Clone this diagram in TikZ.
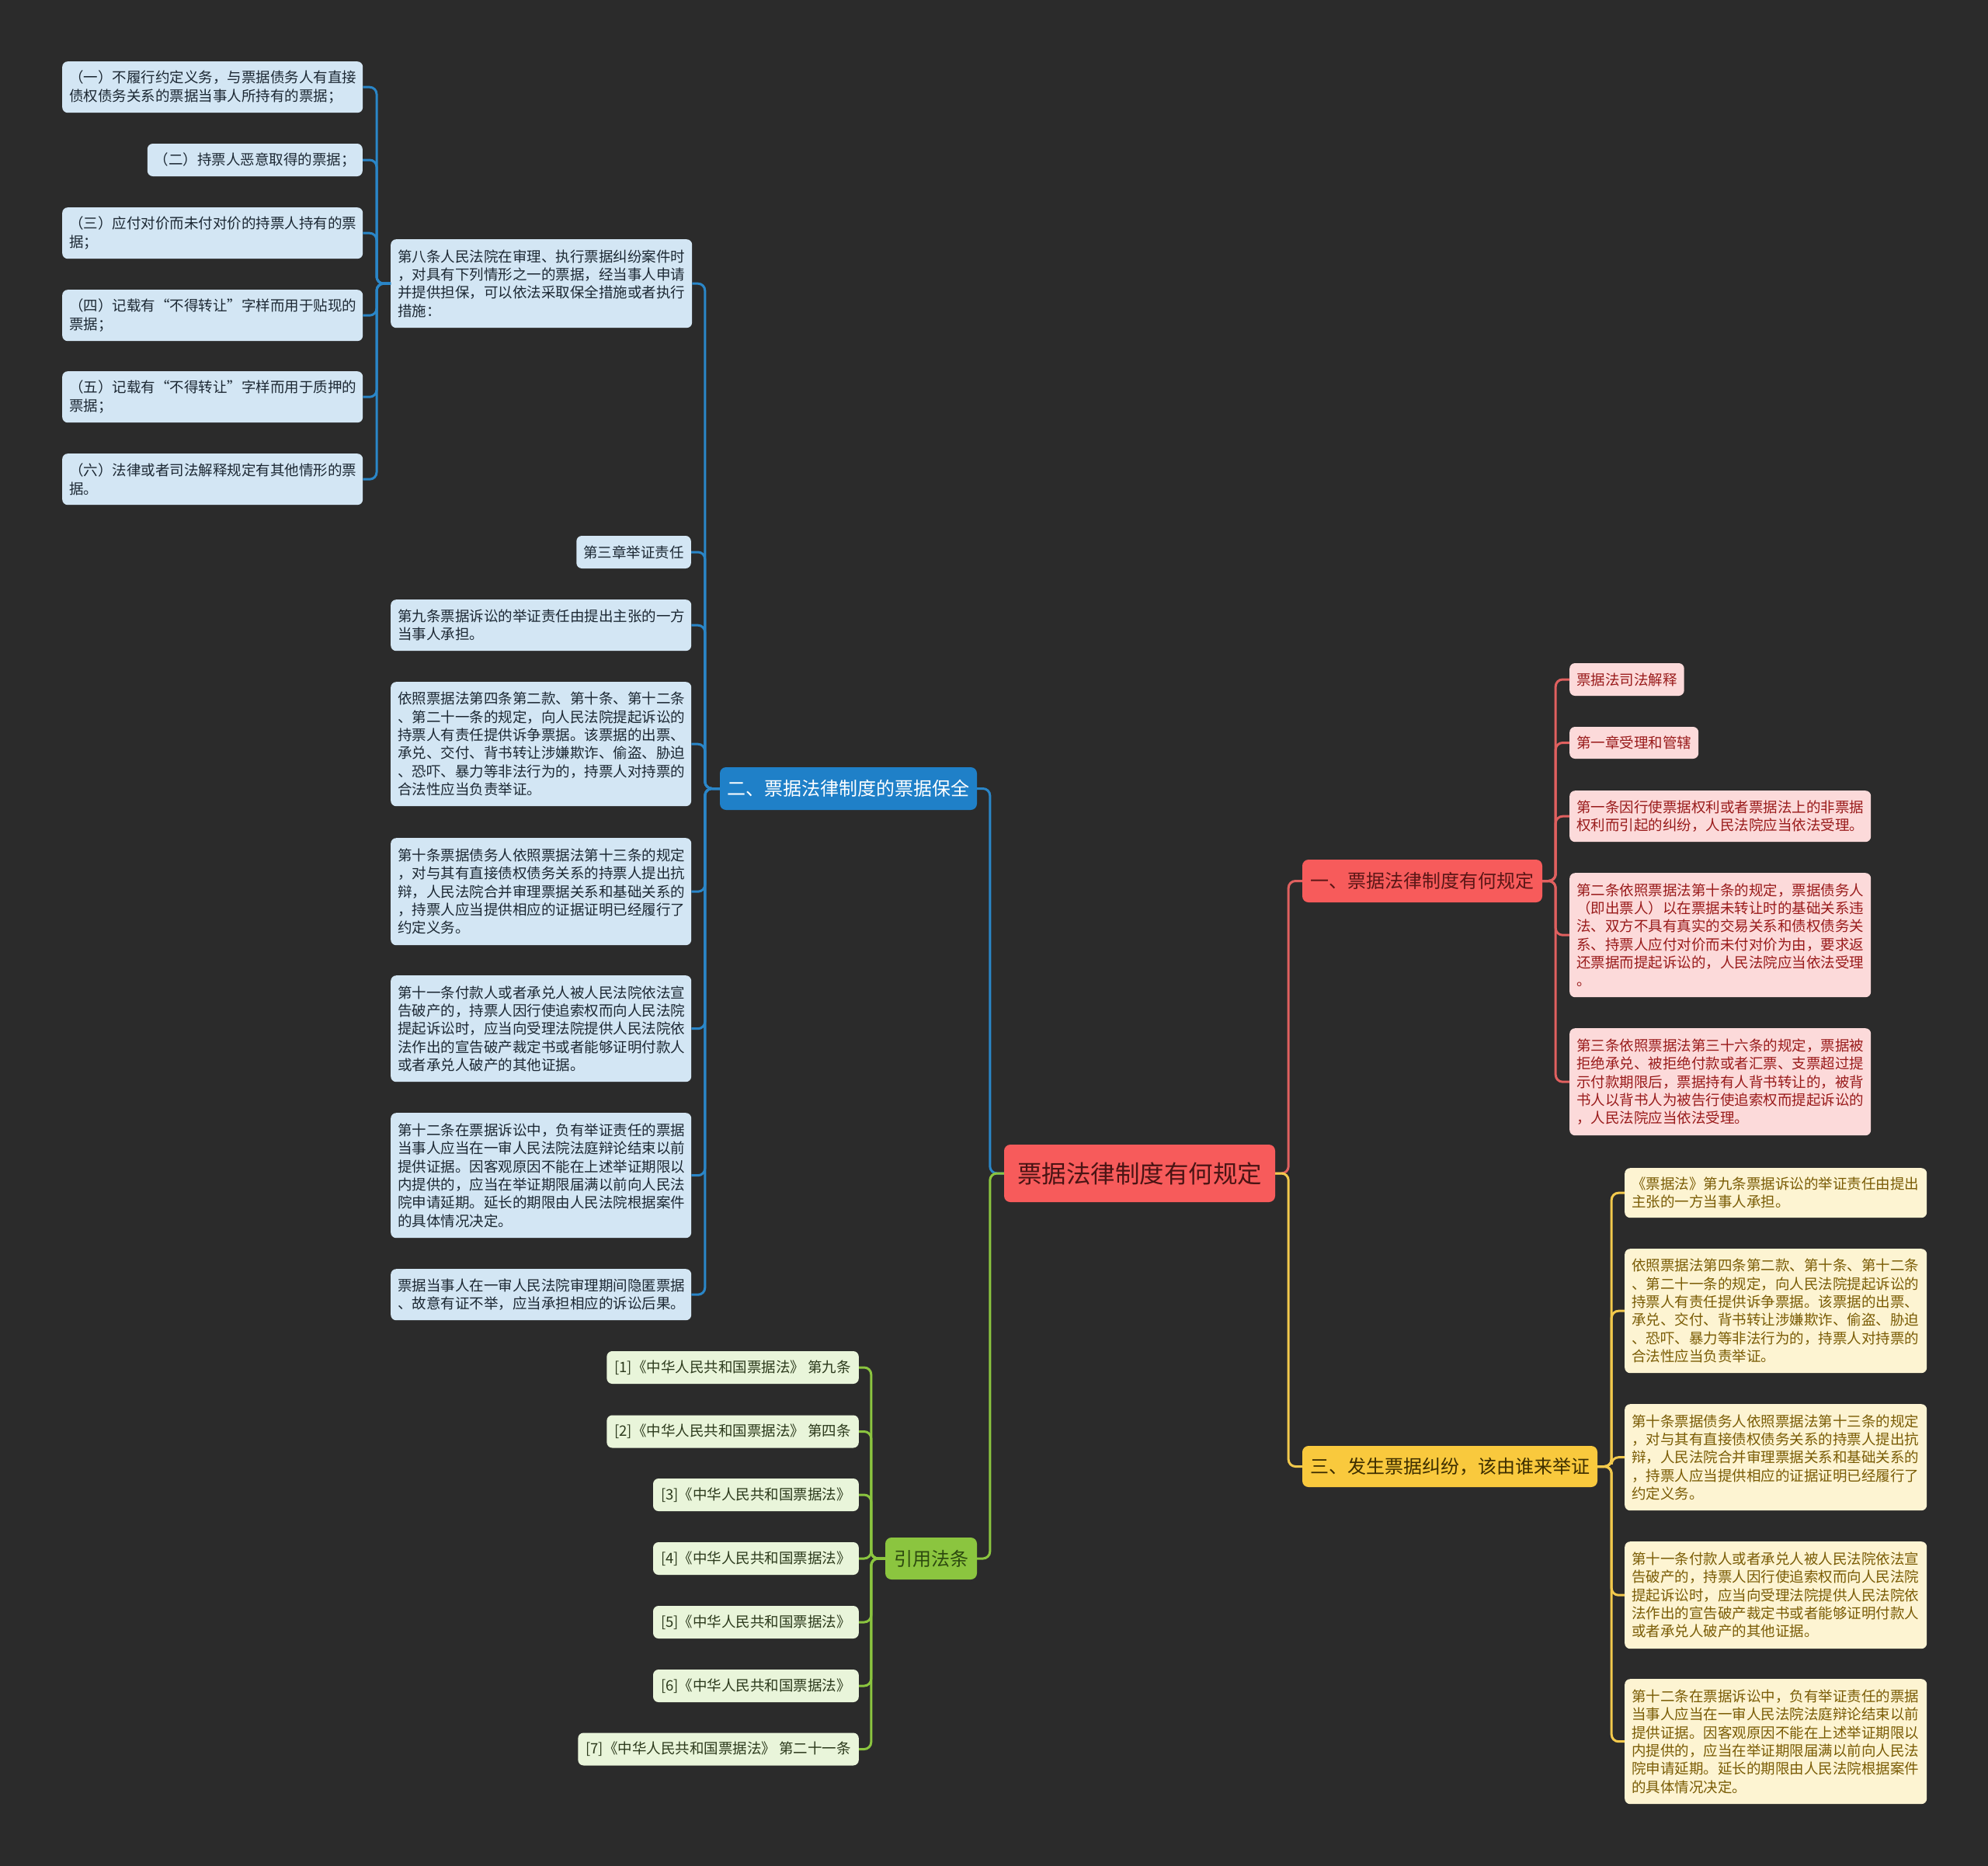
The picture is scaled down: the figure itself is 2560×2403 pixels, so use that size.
\documentclass[tikz,border=0pt]{standalone}
\usepackage{fontspec}
\setmainfont{Noto Sans CJK SC}
\definecolor{bg}{HTML}{2B2B2B}
\definecolor{rootfill}{HTML}{F75B5B}
\definecolor{roottext}{HTML}{4A1414}
\definecolor{bluemain}{HTML}{1F80C8}
\definecolor{blueline}{HTML}{2A86C8}
\definecolor{bluefill}{HTML}{D3E6F4}
\definecolor{bluetext}{HTML}{1C2833}
\definecolor{redline}{HTML}{E0605F}
\definecolor{redfill}{HTML}{FCDADA}
\definecolor{redtext}{HTML}{991B1B}
\definecolor{redmaintext}{HTML}{5A1616}
\definecolor{yelmain}{HTML}{F9C93D}
\definecolor{yelline}{HTML}{F2C94C}
\definecolor{yelfill}{HTML}{FDF4D2}
\definecolor{yeltext}{HTML}{7A5C05}
\definecolor{yelmaintext}{HTML}{3D2E00}
\definecolor{grnmain}{HTML}{8BC53F}
\definecolor{grnline}{HTML}{8BC53F}
\definecolor{grnfill}{HTML}{E9F5DA}
\definecolor{grntext}{HTML}{2C3A1C}
\definecolor{grnmaintext}{HTML}{2D4A0F}
\tikzset{
  base/.style={rounded corners=7pt, inner ysep=0pt, inner xsep=9pt, align=left,
    font=\fontsize{18.5}{23.3}\selectfont},
  bleaf/.style={base, fill=bluefill, text=bluetext},
  rleaf/.style={base, fill=redfill, text=redtext},
  yleaf/.style={base, fill=yelfill, text=yeltext},
  gleaf/.style={base, fill=grnfill, text=grntext, inner xsep=10pt, minimum height=42pt},
  mainbox/.style={rounded corners=8pt, inner sep=0pt, align=center,
    font=\fontsize{24}{28}\selectfont},
  conn/.style={line width=3pt, rounded corners=9pt},
}
\begin{document}
\begin{tikzpicture}[x=1pt,y=-1pt]
\fill[bg] (0,0) rectangle (2560,2403);
\useasboundingbox (0,0) rectangle (2560,2403);

% root
\node[mainbox, fill=rootfill, text=roottext, minimum width=349pt, minimum height=74pt,
  font=\fontsize{31.5}{36}\selectfont] (root) at (1467.5,1511) {票据法律制度有何规定};

% main branches
\node[mainbox, fill=bluemain, text=white, minimum width=331pt, minimum height=55pt] (b) at (1092.5,1015.5) {二、票据法律制度的票据保全};
\node[mainbox, fill=grnmain, text=grnmaintext, minimum width=118pt, minimum height=54pt] (g) at (1199,2007) {引用法条};
\node[mainbox, fill=rootfill, text=redmaintext, minimum width=309pt, minimum height=55pt] (r) at (1831.5,1134.5) {一、票据法律制度有何规定};
\node[mainbox, fill=yelmain, text=yelmaintext, minimum width=380pt, minimum height=53pt] (y) at (1867,1888.5) {三、发生票据纠纷，该由谁来举证};

% blue: 第八条 and its children
\node[bleaf, anchor=north west, text width=370pt, minimum height=114pt] (a0) at (503,308) {第八条人民法院在审理、执行票据纠纷案件时\\，对具有下列情形之一的票据，经当事人申请\\并提供担保，可以依法采取保全措施或者执行\\措施：};
\node[bleaf, anchor=north west, text width=369pt, minimum height=66pt] (a1) at (80,79) {（一）不履行约定义务，与票据债务人有直接\\债权债务关系的票据当事人所持有的票据；};
\node[bleaf, anchor=east, minimum height=42pt] (a2) at (467,206) {（二）持票人恶意取得的票据；};
\node[bleaf, anchor=north west, text width=369pt, minimum height=66pt] (a3) at (80,267) {（三）应付对价而未付对价的持票人持有的票\\据；};
\node[bleaf, anchor=north west, text width=369pt, minimum height=66pt] (a4) at (80,373) {（四）记载有“不得转让”字样而用于贴现的\\票据；};
\node[bleaf, anchor=north west, text width=369pt, minimum height=66pt] (a5) at (80,478) {（五）记载有“不得转让”字样而用于质押的\\票据；};
\node[bleaf, anchor=north west, text width=369pt, minimum height=66pt] (a6) at (80,584) {（六）法律或者司法解释规定有其他情形的票\\据。};

% blue: other children
\node[bleaf, anchor=east, minimum height=42pt] (b1) at (890,711) {第三章举证责任};
\node[bleaf, anchor=north west, text width=369pt, minimum height=66pt] (b2) at (503,772) {第九条票据诉讼的举证责任由提出主张的一方\\当事人承担。};
\node[bleaf, anchor=north west, text width=369pt, minimum height=160pt] (b3) at (503,878) {依照票据法第四条第二款、第十条、第十二条\\、第二十一条的规定，向人民法院提起诉讼的\\持票人有责任提供诉争票据。该票据的出票、\\承兑、交付、背书转让涉嫌欺诈、偷盗、胁迫\\、恐吓、暴力等非法行为的，持票人对持票的\\合法性应当负责举证。};
\node[bleaf, anchor=north west, text width=369pt, minimum height=138pt] (b4) at (503,1079) {第十条票据债务人依照票据法第十三条的规定\\，对与其有直接债权债务关系的持票人提出抗\\辩，人民法院合并审理票据关系和基础关系的\\，持票人应当提供相应的证据证明已经履行了\\约定义务。};
\node[bleaf, anchor=north west, text width=369pt, minimum height=137pt] (b5) at (503,1256) {第十一条付款人或者承兑人被人民法院依法宣\\告破产的，持票人因行使追索权而向人民法院\\提起诉讼时，应当向受理法院提供人民法院依\\法作出的宣告破产裁定书或者能够证明付款人\\或者承兑人破产的其他证据。};
\node[bleaf, anchor=north west, text width=369pt, minimum height=161pt] (b6) at (503,1433) {第十二条在票据诉讼中，负有举证责任的票据\\当事人应当在一审人民法院法庭辩论结束以前\\提供证据。因客观原因不能在上述举证期限以\\内提供的，应当在举证期限届满以前向人民法\\院申请延期。延长的期限由人民法院根据案件\\的具体情况决定。};
\node[bleaf, anchor=north west, text width=369pt, minimum height=66pt] (b7) at (503,1634) {票据当事人在一审人民法院审理期间隐匿票据\\、故意有证不举，应当承担相应的诉讼后果。};

% green children
\node[gleaf, anchor=east] (g1) at (1106,1761) {[1]《中华人民共和国票据法》 第九条};
\node[gleaf, anchor=east] (g2) at (1106,1843.5) {[2]《中华人民共和国票据法》 第四条};
\node[gleaf, anchor=east] (g3) at (1106,1925) {[3]《中华人民共和国票据法》};
\node[gleaf, anchor=east] (g4) at (1106,2007) {[4]《中华人民共和国票据法》};
\node[gleaf, anchor=east] (g5) at (1106,2089) {[5]《中华人民共和国票据法》};
\node[gleaf, anchor=east] (g6) at (1106,2171) {[6]《中华人民共和国票据法》};
\node[gleaf, anchor=east] (g7) at (1106,2252.5) {[7]《中华人民共和国票据法》 第二十一条};

% red children
\node[rleaf, anchor=west, minimum height=42pt] (r1) at (2021,875) {票据法司法解释};
\node[rleaf, anchor=west, minimum height=41pt] (r2) at (2021,956.5) {第一章受理和管辖};
\node[rleaf, anchor=north west, text width=370pt, minimum height=66pt] (r3) at (2021,1018) {第一条因行使票据权利或者票据法上的非票据\\权利而引起的纠纷，人民法院应当依法受理。};
\node[rleaf, anchor=north west, text width=370pt, minimum height=160pt] (r4) at (2021,1124) {第二条依照票据法第十条的规定，票据债务人\\（即出票人）以在票据未转让时的基础关系违\\法、双方不具有真实的交易关系和债权债务关\\系、持票人应付对价而未付对价为由，要求返\\还票据而提起诉讼的，人民法院应当依法受理\\。};
\node[rleaf, anchor=north west, text width=370pt, minimum height=138pt] (r5) at (2021,1324) {第三条依照票据法第三十六条的规定，票据被\\拒绝承兑、被拒绝付款或者汇票、支票超过提\\示付款期限后，票据持有人背书转让的，被背\\书人以背书人为被告行使追索权而提起诉讼的\\，人民法院应当依法受理。};

% yellow children
\node[yleaf, anchor=north west, text width=371pt, minimum height=64pt] (y1) at (2092,1504) {《票据法》第九条票据诉讼的举证责任由提出\\主张的一方当事人承担。};
\node[yleaf, anchor=north west, text width=371pt, minimum height=160pt] (y2) at (2092,1608) {依照票据法第四条第二款、第十条、第十二条\\、第二十一条的规定，向人民法院提起诉讼的\\持票人有责任提供诉争票据。该票据的出票、\\承兑、交付、背书转让涉嫌欺诈、偷盗、胁迫\\、恐吓、暴力等非法行为的，持票人对持票的\\合法性应当负责举证。};
\node[yleaf, anchor=north west, text width=371pt, minimum height=137pt] (y3) at (2092,1808) {第十条票据债务人依照票据法第十三条的规定\\，对与其有直接债权债务关系的持票人提出抗\\辩，人民法院合并审理票据关系和基础关系的\\，持票人应当提供相应的证据证明已经履行了\\约定义务。};
\node[yleaf, anchor=north west, text width=371pt, minimum height=138pt] (y4) at (2092,1985) {第十一条付款人或者承兑人被人民法院依法宣\\告破产的，持票人因行使追索权而向人民法院\\提起诉讼时，应当向受理法院提供人民法院依\\法作出的宣告破产裁定书或者能够证明付款人\\或者承兑人破产的其他证据。};
\node[yleaf, anchor=north west, text width=371pt, minimum height=161pt] (y5) at (2092,2162) {第十二条在票据诉讼中，负有举证责任的票据\\当事人应当在一审人民法院法庭辩论结束以前\\提供证据。因客观原因不能在上述举证期限以\\内提供的，应当在举证期限届满以前向人民法\\院申请延期。延长的期限由人民法院根据案件\\的具体情况决定。};

% connectors: root to main branches
\draw[conn, blueline] (root.west) -- ++(-18,0) |- (b.east);
\draw[conn, grnline] (root.west) -- ++(-18,0) |- (g.east);
\draw[conn, redline] (root.east) -- ++(17,0) |- (r.west);
\draw[conn, yelline] (root.east) -- ++(17,0) |- (y.west);

% blue branch
\foreach \c in {a0,b1,b2,b3,b4,b5,b6,b7}
  \draw[conn, blueline] (b.west) -- ++(-19,0) |- (\c.east);
\foreach \c in {a1,a2,a3,a4,a5,a6}
  \draw[conn, blueline] (a0.west) -- ++(-18,0) |- (\c.east);
% green branch
\foreach \c in {g1,g2,g3,g4,g5,g6,g7}
  \draw[conn, grnline] (g.west) -- ++(-18,0) |- (\c.east);
% red branch
\foreach \c in {r1,r2,r3,r4,r5}
  \draw[conn, redline] (r.east) -- ++(17,0) |- (\c.west);
% yellow branch
\foreach \c in {y1,y2,y3,y4,y5}
  \draw[conn, yelline] (y.east) -- ++(18,0) |- (\c.west);
\end{tikzpicture}
\end{document}
